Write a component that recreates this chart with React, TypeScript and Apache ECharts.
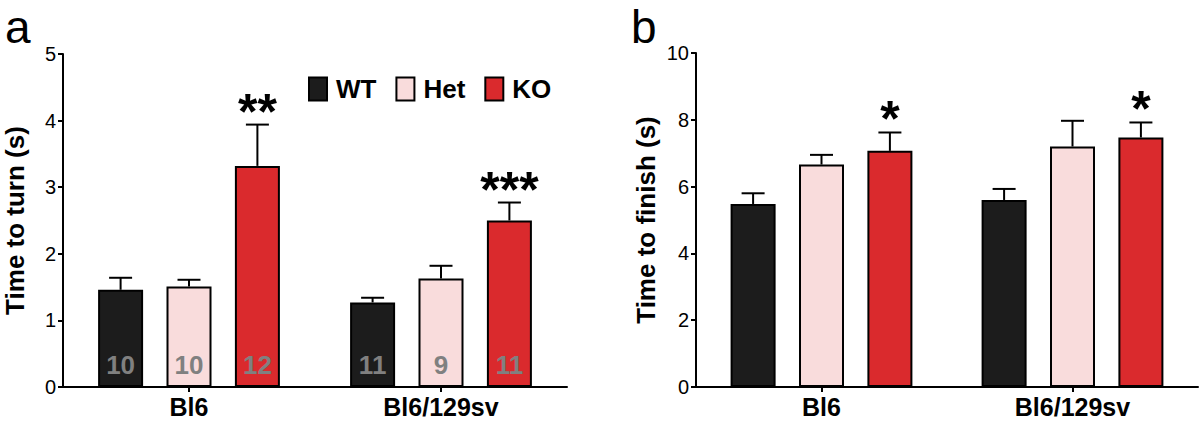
import React, { useEffect, useRef } from "react";
import * as echarts from "echarts";

const categories = ["Bl6", "Bl6/129sv"];
const groups = ["WT", "Het", "KO"];
const colors = ["#1c1c1c", "#f9dcdc", "#da2a2d"];

// Panel a: time to turn
const turnWT = [1.46, 1.27];
const turnHet = [1.51, 1.63];
const turnKO = [3.32, 2.5];
const turnWTErr = [0.18, 0.07];
const turnHetErr = [0.1, 0.19];
const turnKOErr = [0.62, 0.27];
const turnNWT = [10, 11];
const turnNHet = [10, 9];
const turnNKO = [12, 11];
const turnSigKO = ["**", "***"];

// Panel b: time to finish
const finishWT = [5.48, 5.6];
const finishHet = [6.66, 7.2];
const finishKO = [7.07, 7.47];
const finishWTErr = [0.32, 0.33];
const finishHetErr = [0.29, 0.77];
const finishKOErr = [0.55, 0.45];
const finishSigKO = ["*", "*"];

const turnTicks = { min: 0, max: 5, interval: 1 };
const finishTicks = { min: 0, max: 10, interval: 2 };

const FONT = "'Liberation Sans', Arial, Helvetica, sans-serif";
const BAR_W = 45;
const BAR_GAP = 0.52;
const STEP = BAR_W * (1 + BAR_GAP);

export default function App() {
  const ref = useRef<HTMLDivElement>(null);

  useEffect(() => {
    if (!ref.current) return;
    const chart = echarts.init(ref.current, null, { renderer: "svg" });

    const barSeries = (
      name: string,
      gi: number,
      axis: number,
      values: number[],
      nums: number[] | null
    ) => ({
      type: "bar",
      name,
      xAxisIndex: axis,
      yAxisIndex: axis,
      barWidth: BAR_W,
      barGap: BAR_GAP * 100 + "%",
      data: values,
      itemStyle: { color: colors[gi], borderColor: "#000", borderWidth: 2 },
      label: nums
        ? {
            show: true,
            position: "insideBottom",
            distance: 9,
            formatter: (p: any) => String(nums[p.dataIndex]),
            color: "#808080",
            fontSize: 26,
            fontWeight: "bold",
            fontFamily: FONT,
          }
        : { show: false },
      emphasis: { disabled: true },
      z: 2,
    });

    const errSeries = (
      gi: number,
      axis: number,
      values: number[],
      errs: number[],
      sig: string[] | null
    ) => ({
      type: "custom",
      xAxisIndex: axis,
      yAxisIndex: axis,
      silent: true,
      z: 3,
      data: values.map((v, i) => [i, v, errs[i]]),
      renderItem: (params: any, api: any) => {
        const cat = api.value(0);
        const mean = api.value(1);
        const err = api.value(2);
        const base = api.coord([cat, mean]);
        const top = api.coord([cat, mean + err]);
        const x = base[0] + (gi - 1) * STEP;
        const children: any[] = [
          {
            type: "line",
            shape: { x1: x, y1: base[1], x2: x, y2: top[1] },
            style: { stroke: "#000", lineWidth: 2 },
          },
          {
            type: "line",
            shape: { x1: x - 11.5, y1: top[1], x2: x + 11.5, y2: top[1] },
            style: { stroke: "#000", lineWidth: 2 },
          },
        ];
        if (sig && sig[params.dataIndex]) {
          children.push({
            type: "text",
            x,
            y: top[1] - 13,
            style: {
              text: sig[params.dataIndex],
              fontSize: 50,
              fontWeight: "bold",
              fontFamily: FONT,
              fill: "#000",
              align: "center",
              verticalAlign: "middle",
            },
          });
        }
        return { type: "group", children };
      },
    });

    const xAxisBase = (gridIndex: number) => ({
      type: "category",
      gridIndex,
      data: categories,
      axisLine: { show: true, lineStyle: { color: "#000", width: 2 } },
      axisTick: { show: true, alignWithLabel: true, length: 5, lineStyle: { color: "#000", width: 2 } },
      axisLabel: { color: "#000", fontSize: 25, fontWeight: "bold", fontFamily: FONT, margin: 7, lineHeight: 26 },
      splitLine: { show: false },
    });

    const yAxisBase = (gridIndex: number, name: string, ticks: any, nameGap: number) => ({
      type: "value",
      gridIndex,
      min: ticks.min,
      max: ticks.max,
      interval: ticks.interval,
      name,
      nameLocation: "middle",
      nameGap,
      nameTextStyle: { color: "#000", fontSize: 26, fontWeight: "bold", fontFamily: FONT },
      axisLine: { show: true, lineStyle: { color: "#000", width: 2 } },
      axisTick: { show: true, length: 5, lineStyle: { color: "#000", width: 2 } },
      axisLabel: { color: "#000", fontSize: 20, fontFamily: FONT, margin: 7 },
      splitLine: { show: false },
    });

    chart.setOption({
      animation: false,
      backgroundColor: "#fff",
      textStyle: { fontFamily: FONT },
      grid: [
        { left: 63, right: 633, top: 54, bottom: 35 },
        { left: 696, right: 2, top: 53, bottom: 35 },
      ],
      legend: {
        data: groups,
        left: 308,
        top: 76,
        padding: 0,
        itemWidth: 18,
        itemHeight: 23,
        itemGap: 19,
        icon: "rect",
        selectedMode: false,
        textStyle: { color: "#000", fontSize: 26, fontWeight: "bold", fontFamily: FONT, padding: [0, 0, 0, 4] },
      },
      xAxis: [xAxisBase(0), xAxisBase(1)],
      yAxis: [
        yAxisBase(0, "Time to turn (s)", turnTicks, 35),
        yAxisBase(1, "Time to finish (s)", finishTicks, 37),
      ],
      graphic: [
        { type: "text", left: 5, top: 4, style: { text: "a", fontSize: 46, lineHeight: 40, fontFamily: FONT, fill: "#000" } },
        { type: "text", left: 631, top: 4, style: { text: "b", fontSize: 46, lineHeight: 40, fontFamily: FONT, fill: "#000" } },
      ],
      series: [
        barSeries("WT", 0, 0, turnWT, turnNWT),
        barSeries("Het", 1, 0, turnHet, turnNHet),
        barSeries("KO", 2, 0, turnKO, turnNKO),
        errSeries(0, 0, turnWT, turnWTErr, null),
        errSeries(1, 0, turnHet, turnHetErr, null),
        errSeries(2, 0, turnKO, turnKOErr, turnSigKO),
        barSeries("WT", 0, 1, finishWT, null),
        barSeries("Het", 1, 1, finishHet, null),
        barSeries("KO", 2, 1, finishKO, null),
        errSeries(0, 1, finishWT, finishWTErr, null),
        errSeries(1, 1, finishHet, finishHetErr, null),
        errSeries(2, 1, finishKO, finishKOErr, finishSigKO),
      ],
    });

    return () => chart.dispose();
  }, []);

  return (
    <div
      ref={ref}
      style={{ position: "fixed", left: 0, top: 0, width: 1200, height: 422, background: "#fff" }}
    />
  );
}
